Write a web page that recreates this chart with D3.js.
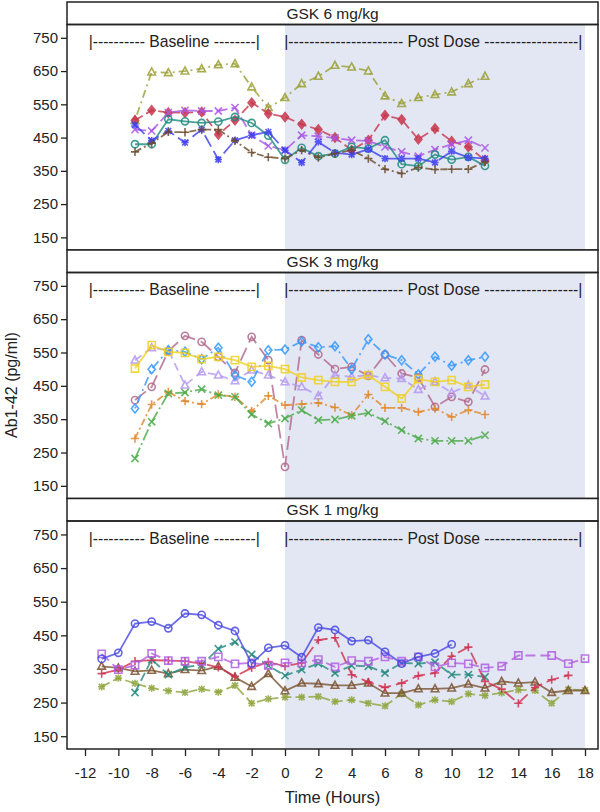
<!DOCTYPE html>
<html><head><meta charset="utf-8">
<script src="https://cdn.jsdelivr.net/npm/d3@7"></script>
<style>
body{margin:0;background:#fff}
svg{display:block}
text{font-family:"Liberation Sans",Arial,Helvetica,sans-serif;fill:#222}
</style>
</head><body>
<svg id="chart" width="600" height="812"></svg>
<script>
// ---------- DATA ----------
const panelTitles = ["GSK 6 mg/kg", "GSK 3 mg/kg", "GSK 1 mg/kg"];
const yTickValues = [150, 250, 350, 450, 550, 650, 750];
const xTickValues = [-12, -10, -8, -6, -4, -2, 0, 2, 4, 6, 8, 10, 12, 14, 16, 18];
const xTitle = "Time (Hours)";
const yTitle = "Ab1-42 (pg/ml)";
const baselineLabel = "|---------- Baseline --------|";
const postDoseLabel = "|---------------------- Post Dose ------------------|";

// hours for panels 1 & 2
const hoursA = [-9, -8, -7, -6, -5, -4, -3, -2, -1, 0, 1, 2, 3, 4, 5, 6, 7, 8, 9, 10, 11, 12];
// hours for panel 3
const hoursB = [-11, -10, -9, -8, -7, -6, -5, -4, -3, -2, -1, 0, 1, 2, 3, 4, 5, 6, 7, 8, 9, 10, 11, 12, 13, 14, 15, 16, 17, 18];

// GSK 6 mg/kg
const g6Olive  = [502, 647, 645, 650, 657, 669, 672, 602, 540, 570, 612, 634, 667, 662, 650, 575, 552, 570, 579, 587, 612, 634];
const g6Red    = [502, 532, 525, 525, 527, 459, 502, 555, 522, 512, 490, 474, 450, 412, 442, 517, 504, 445, 477, 439, 422, 382];
const g6Purple = [474, 470, 525, 532, 530, 530, 540, 457, 425, 412, 457, 454, 449, 442, 440, 422, 407, 394, 414, 430, 442, 419];
const g6Teal   = [430, 430, 505, 499, 494, 498, 512, 494, 456, 383, 419, 394, 402, 422, 417, 442, 370, 364, 399, 384, 392, 365];
const g6Blue   = [488, 441, 470, 435, 474, 384, 442, 457, 467, 412, 375, 437, 404, 399, 415, 387, 387, 387, 375, 409, 390, 387];
const g6Brown  = [407, 433, 467, 466, 474, 474, 440, 405, 391, 387, 412, 390, 402, 412, 387, 355, 342, 360, 354, 355, 355, 377];

// GSK 3 mg/kg
const g3Yellow   = [502, 572, 552, 549, 530, 537, 527, 507, 510, 500, 475, 467, 462, 462, 482, 447, 412, 470, 462, 467, 447, 454];
const g3SkyBlue  = [382, 500, 557, 552, 530, 564, 482, 462, 557, 559, 583, 566, 569, 500, 590, 544, 527, 484, 537, 510, 527, 537];
const g3Mauve    = [407, 447, 554, 600, 582, 537, 489, 597, 527, 207, 587, 544, 500, 507, 480, 544, 487, 475, 387, 417, 402, 499];
const g3Lavender = [527, 564, 557, 452, 492, 482, 465, 497, 482, 462, 447, 420, 482, 477, 482, 474, 472, 439, 462, 429, 452, 419];
const g3Orange   = [292, 394, 432, 404, 395, 424, 417, 374, 420, 392, 395, 399, 385, 362, 424, 384, 384, 372, 382, 357, 377, 364];
const g3Green    = [232, 342, 427, 430, 440, 422, 417, 364, 337, 352, 377, 347, 349, 360, 369, 344, 317, 292, 285, 285, 285, 302];

// GSK 1 mg/kg
const g1Blue   = [380, 398, 485, 491, 471, 515, 511, 480, 463, 366, 413, 420, 385, 473, 466, 433, 436, 401, 366, 386, 396, 423, null, null, null, null, null, null, null, null];
const g1Red    = [336, 348, 373, 376, 375, 373, 366, 355, 328, 353, 371, 358, 368, 436, 443, 333, 311, 295, 308, 330, 338, 388, 415, 313, 290, 248, 295, 318, 331, null];
const g1Teal   = [null, null, 280, 378, 333, 355, 362, 410, 430, 393, 360, 330, 348, 366, 338, 360, 358, 338, 368, 366, 370, 333, 333, 326, null, null, null, null, null, null];
const g1Purple = [395, 348, 361, 396, 375, 373, 373, 386, 365, 368, 361, 368, 368, 378, 356, 375, 373, 386, 373, 386, 356, 368, 365, 353, 358, 390, null, 390, 366, 381];
const g1Brown  = [358, 353, 343, 346, 336, 348, 345, 358, 325, 298, 336, 285, 308, 306, 301, 301, 308, 278, 278, 291, 291, 293, 305, 293, 313, 308, 311, 280, 286, 286];
const g1Olive  = [297, 323, 307, 293, 285, 280, 290, 281, 301, 248, 261, 266, 266, 268, 253, 258, 248, 240, 276, 243, 258, 253, 276, 271, 279, 288, 286, 248, 289, 287];

// ---------- STYLES ----------
const panels = [
  { hours: hoursA, series: [
    { v: g6Olive,  color: "#9aa033", marker: "triangle", dash: "2,4,8,4", fill: false },
    { v: g6Red,    color: "#c8354c", marker: "diamond",  dash: "9,4",     fill: true },
    { v: g6Purple, color: "#a955e6", marker: "x",        dash: "11,4",    fill: false },
    { v: g6Teal,   color: "#1f8a80", marker: "circle",   dash: null,      fill: false },
    { v: g6Blue,   color: "#3d3df0", marker: "asterisk", dash: "13,5",    fill: false },
    { v: g6Brown,  color: "#6b4a2b", marker: "plus",     dash: "7,3,2,3", fill: false }
  ]},
  { hours: hoursA, series: [
    { v: g3Mauve,    color: "#b0668a", marker: "circle",   dash: "14,6",    fill: false },
    { v: g3Lavender, color: "#b497f0", marker: "triangle", dash: "8,5",     fill: false },
    { v: g3SkyBlue,  color: "#3399ff", marker: "diamond",  dash: "2,4,9,4", fill: false },
    { v: g3Orange,   color: "#e0872a", marker: "plus",     dash: "7,3,2,3", fill: false },
    { v: g3Green,    color: "#4aaa48", marker: "x",        dash: "12,3,2,3", fill: false },
    { v: g3Yellow,   color: "#f0d020", marker: "square",   dash: null,      fill: false }
  ]},
  { hours: hoursB, series: [
    { v: g1Olive,  color: "#8ea43c", marker: "asterisk", dash: "9,4",  fill: false },
    { v: g1Brown,  color: "#7a5230", marker: "triangle", dash: null,   fill: false },
    { v: g1Teal,   color: "#22877d", marker: "x",        dash: "9,4",  fill: false },
    { v: g1Red,    color: "#d0304f", marker: "plus",     dash: "13,5", fill: false },
    { v: g1Purple, color: "#b05ee0", marker: "square",   dash: "10,5", fill: false },
    { v: g1Blue,   color: "#4848e2", marker: "circle",   dash: null,   fill: false }
  ]}
];

// ---------- LAYOUT ----------
const frameL = 67, frameR = 598;
const panelTops = [2, 250, 498.5];
const frameBottom = 749;
const headerH = 22.5;
const yDomain = [112, 790];

const svg = d3.select("#chart");
const xs = d3.scaleLinear().domain([-12, 18]).range([85, 585]);

function markerPath(type, s) {
  switch (type) {
    case "circle": return d3.symbol(d3.symbolCircle, Math.PI * s * s)();
    case "square": return `M${-s},${-s}h${2*s}v${2*s}h${-2*s}Z`;
    case "triangle": return `M0,${-s*1.15}L${s*1.05},${s*0.8}L${-s*1.05},${s*0.8}Z`;
    case "diamond": return `M0,${-s*1.25}L${s},0L0,${s*1.25}L${-s},0Z`;
    case "plus": return `M${-s*1.15},0H${s*1.15}M0,${-s*1.15}V${s*1.15}`;
    case "x": return `M${-s},${-s}L${s},${s}M${-s},${s}L${s},${-s}`;
    case "asterisk": {
      const d = s * 0.8;
      return `M${-s},0H${s}M0,${-s}V${s}M${-d},${-d}L${d},${d}M${-d},${d}L${d},${-d}`;
    }
  }
}

panels.forEach((p, i) => {
  const top = panelTops[i];
  const plotTop = top + headerH;
  const bottom = i < 2 ? panelTops[i + 1] : frameBottom;
  const ys = d3.scaleLinear().domain(yDomain).range([bottom, plotTop]);
  const g = svg.append("g");

  // shaded post-dose region
  g.append("rect").attr("x", xs(0)).attr("y", plotTop)
    .attr("width", xs(18) - xs(0)).attr("height", bottom - plotTop)
    .attr("fill", "#e3e7f3");

  // header
  g.append("rect").attr("x", frameL).attr("y", top).attr("width", frameR - frameL).attr("height", headerH)
    .attr("fill", "#fff").attr("stroke", "#222").attr("stroke-width", 1.5);
  g.append("text").attr("x", (frameL + frameR) / 2).attr("y", top + headerH / 2)
    .attr("dy", "0.36em").attr("text-anchor", "middle").attr("font-size", 15.5)
    .text(panelTitles[i]);

  // annotation
  g.append("text").attr("x", xs(-6.65)).attr("y", plotTop + 17).attr("dy", "0.36em")
    .attr("text-anchor", "middle").attr("font-size", 15.7).text(baselineLabel);
  g.append("text").attr("x", xs(8.9)).attr("y", plotTop + 17).attr("dy", "0.36em")
    .attr("text-anchor", "middle").attr("font-size", 15.7).text(postDoseLabel);

  // y axis
  const yAxis = d3.axisLeft(ys).tickValues(yTickValues).tickSize(6).tickPadding(3);
  const ya = g.append("g").attr("transform", `translate(${frameL},0)`).call(yAxis);
  ya.select(".domain").remove();
  ya.selectAll("line").attr("stroke", "#222").attr("stroke-width", 1.3);
  ya.selectAll("text").attr("font-size", 15).attr("fill", "#222")
    .style("font-family", '"Liberation Sans",Arial,sans-serif');

  // series
  p.series.forEach(s => {
    const pts = p.hours.map((h, k) => ({ h, v: s.v[k] })).filter(d => d.v != null);
    const line = d3.line().x(d => xs(d.h)).y(d => ys(d.v));
    g.append("path").datum(pts).attr("d", line)
      .attr("fill", "none").attr("stroke", s.color).attr("stroke-width", 1.8)
      .attr("stroke-dasharray", s.dash).attr("opacity", 0.8);
    g.selectAll(null).data(pts).enter().append("path")
      .attr("transform", d => `translate(${xs(d.h)},${ys(d.v)})`)
      .attr("d", markerPath(s.marker, 3.6))
      .attr("fill", s.fill ? s.color : "none")
      .attr("stroke", s.color).attr("stroke-width", 1.6).attr("opacity", 0.85);
  });

  // plot border
  g.append("rect").attr("x", frameL).attr("y", plotTop).attr("width", frameR - frameL)
    .attr("height", bottom - plotTop).attr("fill", "none").attr("stroke", "#222").attr("stroke-width", 1.5);
});

// x axis
const xAxis = d3.axisBottom(xs).tickValues(xTickValues).tickSize(7).tickPadding(11).tickFormat(d3.format("d"));
const xa = svg.append("g").attr("transform", `translate(0,${frameBottom})`).call(xAxis);
xa.select(".domain").remove();
xa.selectAll("line").attr("stroke", "#222").attr("stroke-width", 1.3);
xa.selectAll("text").attr("font-size", 15).attr("fill", "#222")
  .style("font-family", '"Liberation Sans",Arial,sans-serif')
  .text(d => d < 0 ? "-" + Math.abs(d) : String(d));

// titles
svg.append("text").attr("x", (frameL + frameR) / 2).attr("y", 803)
  .attr("text-anchor", "middle").attr("font-size", 16.5).text(xTitle);
svg.append("text").attr("transform", "translate(17,385) rotate(-90)")
  .attr("text-anchor", "middle").attr("font-size", 16).text(yTitle);
</script>
</body></html>
